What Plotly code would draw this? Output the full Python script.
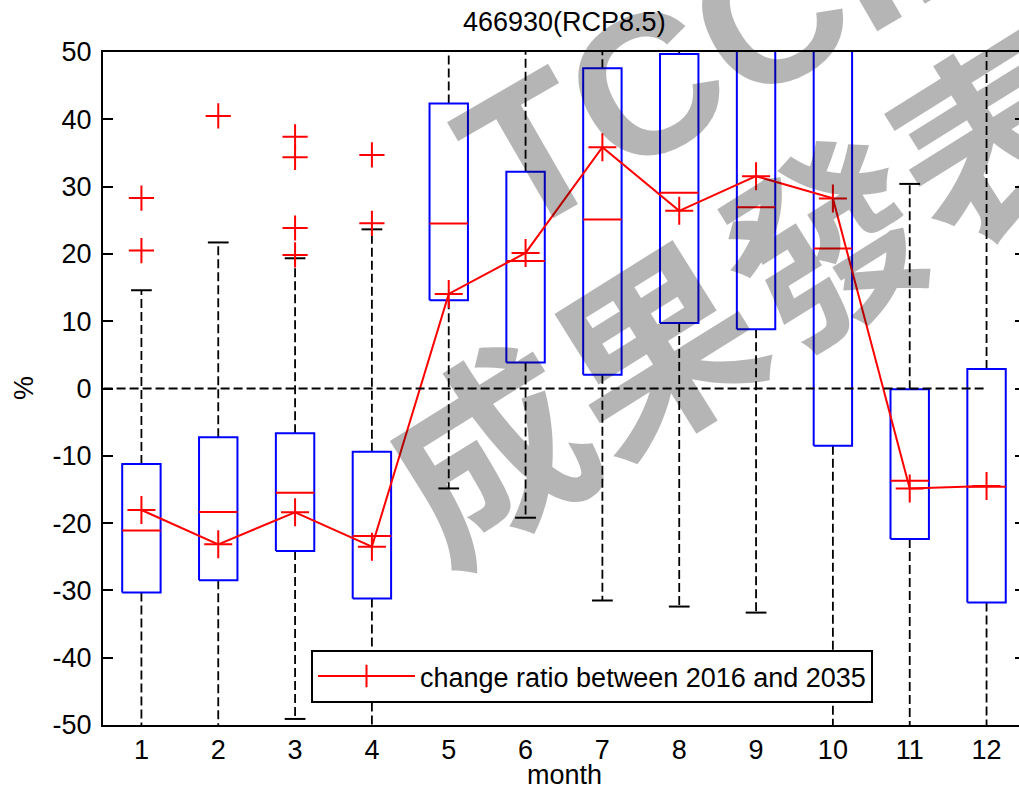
import plotly.graph_objects as go

# ---------------- data ----------------
months = [1, 2, 3, 4, 5, 6, 7, 8, 9, 10, 11, 12]
box_q1 = [-30.3, -28.5, -24.15, -31.2, 13.1, 3.85, 2.05, 9.75, 8.8, -8.5, -22.35, -31.8]
box_q3 = [-11.2, -7.25, -6.65, -9.4, 42.35, 32.2, 47.6, 49.7, 54.0, 57.0, -0.1, 2.9]
box_median = [-21.1, -18.35, -15.5, -21.9, 24.5, 18.95, 25.1, 29.1, 26.95, 20.8, -13.7, -14.6]
whisker_low = [-56.0, -57.0, -49.1, -58.0, -14.85, -19.2, -31.5, -32.4, -33.3, -60.0, -57.0, -62.0]
whisker_high = [14.6, 21.7, 19.35, 23.65, 58.0, 56.0, 64.0, 62.0, 68.0, 70.0, 30.4, 53.0]
mean_ratio = [-18.05, -23.15, -18.4, -23.5, 14.05, 20.15, 35.85, 26.4, 31.55, 28.25, -14.85, -14.5]
outlier_month = [1, 1, 2, 3, 3, 3, 3, 4, 4]
outlier_value = [28.3, 20.5, 40.5, 37.4, 34.35, 23.85, 19.85, 34.7, 24.55]
zero_x = [0, 12]
zero_y = [0, 0]
y_ticks = [-50, -40, -30, -20, -10, 0, 10, 20, 30, 40, 50]
y_ticklabels = ["-50", "-40", "-30", "-20", "-10", "0", "10", "20", "30", "40", "50"]
title_text = "466930(RCP8.5)"
legend_text = "change ratio between 2016 and 2035"

# ---------------- geometry helpers (styles only) ----------------
BOX_HALF = 0.25
CAP_HALF = 0.135
FONT = "Liberation Sans, Arial, sans-serif"
FS = 27

wx, wy = [], []
cx, cy = [], []
bx, by = [], []
mx, my = [], []
for m, q1, q3, md, lo, hi in zip(months, box_q1, box_q3, box_median, whisker_low, whisker_high):
    wx += [m, m, None, m, m, None]
    wy += [q3, hi, None, q1, lo, None]
    cx += [m - CAP_HALF, m + CAP_HALF, None, m - CAP_HALF, m + CAP_HALF, None]
    cy += [hi, hi, None, lo, lo, None]
    bx += [m - BOX_HALF, m + BOX_HALF, m + BOX_HALF, m - BOX_HALF, m - BOX_HALF, None]
    by += [q1, q1, q3, q3, q1, None]
    mx += [m - BOX_HALF, m + BOX_HALF, None]
    my += [md, md, None]

fig = go.Figure()
fig.add_trace(go.Scatter(x=zero_x, y=zero_y, mode="lines", yaxis="y2",
                         line=dict(color="black", width=1.8, dash="9px,4px"),
                         showlegend=False, hoverinfo="skip"))
fig.add_trace(go.Scatter(x=wx, y=wy, mode="lines",
                         line=dict(color="black", width=1.8, dash="9px,4px"),
                         showlegend=False, hoverinfo="skip"))
fig.add_trace(go.Scatter(x=cx, y=cy, mode="lines",
                         line=dict(color="black", width=2),
                         showlegend=False, hoverinfo="skip"))
fig.add_trace(go.Scatter(x=bx, y=by, mode="lines",
                         line=dict(color="#0000ff", width=2),
                         showlegend=False, hoverinfo="skip"))
fig.add_trace(go.Scatter(x=mx, y=my, mode="lines",
                         line=dict(color="#ff0000", width=2),
                         showlegend=False, hoverinfo="skip"))
fig.add_trace(go.Scatter(x=outlier_month, y=outlier_value, mode="markers",
                         marker=dict(symbol="cross-thin", size=18, color="#ff0000",
                                     line=dict(color="#ff0000", width=2)),
                         showlegend=False, hoverinfo="skip"))
fig.add_trace(go.Scatter(x=months, y=mean_ratio, mode="lines+markers", name=legend_text,
                         line=dict(color="#ff0000", width=2),
                         marker=dict(symbol="cross-thin", size=20, color="#ff0000",
                                     line=dict(color="#ff0000", width=2))))

# plot area: x 103..1019 px, y 52..725 px
L, R, T, B = 103, 1019, 52, 725
PX_PER_MONTH = 76.83
x_max = 0.5 + (R - L) / PX_PER_MONTH


def px(xp):
    return (xp - L) / (R - L)


def py(yp):
    return (B - yp) / (B - T)


wm_color = "rgba(0,0,0,0.29)"

fig.update_layout(
    width=1019, height=788,
    margin=dict(l=L, r=1019 - R, t=T, b=788 - B, pad=0),
    paper_bgcolor="white", plot_bgcolor="white",
    font=dict(family=FONT, size=FS, color="black"),
    xaxis=dict(range=[0.5, x_max], tickvals=months, ticktext=[str(m) for m in months],
               showgrid=False, zeroline=False, showline=True, linecolor="black",
               linewidth=2, mirror=True, ticks="", ticklabelstandoff=0,
               tickfont=dict(size=FS, family=FONT)),
    yaxis=dict(range=[-50, 50], tickvals=y_ticks, ticktext=y_ticklabels,
               showgrid=False, zeroline=False,
               showline=True, linecolor="black", linewidth=2, mirror=False,
               ticks="inside", ticklen=10, tickwidth=2, tickcolor="black",
               ticklabelstandoff=4, tickfont=dict(size=FS, family=FONT)),
    yaxis2=dict(range=[-50, 50], overlaying="y", side="right", tickvals=y_ticks,
                showticklabels=False, showgrid=False, zeroline=False, showline=False,
                ticks="inside", ticklen=4, tickwidth=2, tickcolor="black"),
    showlegend=True,
    legend=dict(x=px(311), y=py(650), xanchor="left", yanchor="top",
                bgcolor="white", bordercolor="black", borderwidth=2,
                font=dict(size=FS, family=FONT), itemwidth=97,
                tracegroupgap=0),
    annotations=[
        dict(text=title_text, xref="paper", yref="paper", x=px(564), y=py(22),
             xanchor="center", yanchor="middle", showarrow=False,
             font=dict(size=FS, family=FONT)),
        dict(text="month", xref="paper", yref="paper", x=px(564), y=py(775),
             xanchor="center", yanchor="middle", showarrow=False,
             font=dict(size=FS, family=FONT)),
        dict(text="%", xref="paper", yref="paper", x=px(24), y=py(388),
             xanchor="center", yanchor="middle", showarrow=False, textangle=-90,
             font=dict(size=FS, family=FONT)),
        dict(text="<b>TCCIP</b>", xref="paper", yref="paper", x=px(736), y=py(33),
             xanchor="center", yanchor="middle", showarrow=False, textangle=-30,
             font=dict(size=198, family=FONT, color=wm_color)),
        dict(text="<b>成果發表</b>", xref="paper", yref="paper", x=px(735), y=py(286),
             xanchor="center", yanchor="middle", showarrow=False, textangle=-32,
             font=dict(size=198, family="Noto Sans CJK TC", color=wm_color)),
    ],
)

fig.write_html("out.html")
